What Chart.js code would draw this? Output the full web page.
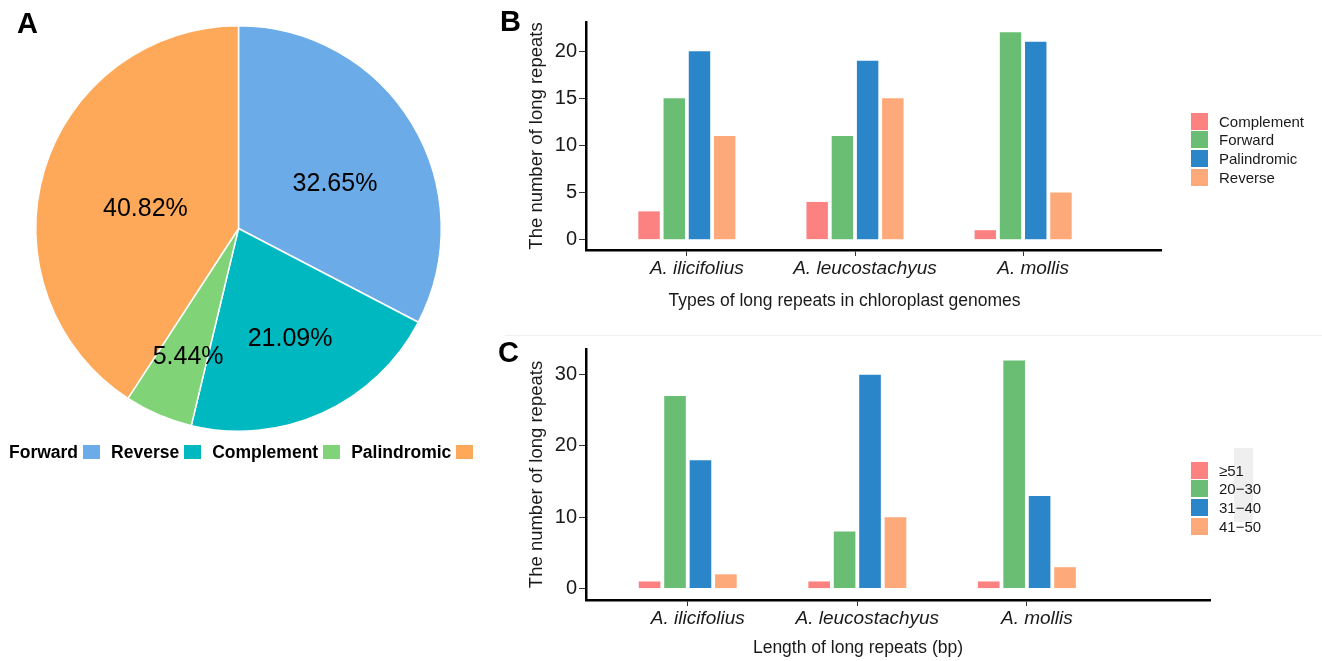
<!DOCTYPE html>
<html>
<head>
<meta charset="utf-8">
<script src="https://cdn.jsdelivr.net/npm/chart.js@4.4.1/dist/chart.umd.min.js"></script>
<style>
html,body{margin:0;padding:0;background:#fff;width:1322px;height:661px;overflow:hidden;font-family:"Liberation Sans",Arial,sans-serif;}
canvas{position:absolute;}
.panel{position:absolute;font-weight:bold;font-size:29px;line-height:29px;color:#000;}
.leg{position:absolute;font-size:15px;color:#1a1a1a;}
.leg .row{display:flex;align-items:center;height:18.6px;}
.leg .sw{width:17px;height:17px;margin-right:11px;}
.xtitle{position:absolute;width:600px;text-align:center;font-size:17.5px;line-height:20px;color:#1a1a1a;white-space:nowrap;}
#pieLegend{position:absolute;left:9px;top:443px;height:18px;display:flex;align-items:center;font-weight:bold;font-size:17.5px;color:#000;white-space:nowrap;}
#pieLegend .sw{width:17px;height:14px;margin-left:5px;margin-right:11px;}
</style>
</head>
<body>
<div style="position:absolute;left:505px;top:335px;width:817px;height:1px;background:#efefef;"></div>
<div style="position:absolute;left:1234px;top:448px;width:19px;height:74px;background:#efefef;"></div>
<canvas id="pie" width="477" height="457" style="left:0;top:0;"></canvas>
<canvas id="typeChart" width="822" height="330" style="left:500px;top:0;"></canvas>
<canvas id="lenChart" width="822" height="326" style="left:500px;top:335px;"></canvas>
<div class="panel" style="left:17px;top:9px;">A</div>
<div class="panel" style="left:500px;top:7px;">B</div>
<div class="panel" style="left:498px;top:338px;">C</div>
<div class="xtitle" style="left:544.5px;top:290px;">Types of long repeats in chloroplast genomes</div>
<div class="xtitle" style="left:558px;top:637px;">Length of long repeats (bp)</div>
<div id="pieLegend"></div>
<div class="leg" id="typeLegend" style="left:1191px;top:112px;"></div>
<div class="leg" id="lenLegend" style="left:1191px;top:461px;"></div>
<script>
// ---- Panel A data ----
const pieCategories = ['Forward', 'Reverse', 'Complement', 'Palindromic'];
const piePercent = [32.65, 21.09, 5.44, 40.82];
const pieColors = ['#6aabe8', '#00b9c0', '#80d477', '#fea85a'];

// ---- Panels B & C shared ----
const species = ['A. ilicifolius', 'A. leucostachyus', 'A. mollis'];
const barColors = ['#fc8181', '#6abe74', '#2a86c8', '#fea97a'];

// ---- Panel B data ----
const typeSeries = ['Complement', 'Forward', 'Palindromic', 'Reverse'];
const typeComplement = [3, 4, 1];
const typeForward = [15, 11, 22];
const typePalindromic = [20, 19, 21];
const typeReverse = [11, 15, 5];
const typeTicks = [0, 5, 10, 15, 20];

// ---- Panel C data ----
const lengthSeries = ['≥51', '20−30', '31−40', '41−50'];
const len51plus = [1, 1, 1];
const len20to30 = [27, 8, 32];
const len31to40 = [18, 30, 13];
const len41to50 = [2, 10, 3];
const lengthTicks = [0, 10, 20, 30];

const FAMILY = '"Liberation Sans", Arial, sans-serif';
const TEXT = '#1a1a1a';

// Pie percentage labels plugin
const pieLabelPlugin = {
  id: 'pieLabels',
  afterDatasetsDraw(chart, args, opts) {
    const ctx = chart.ctx;
    const meta = chart.getDatasetMeta(0);
    ctx.save();
    ctx.font = '25px ' + FAMILY;
    ctx.fillStyle = '#000';
    ctx.textAlign = 'center';
    ctx.textBaseline = 'middle';
    meta.data.forEach((arc, i) => {
      const p = arc.getProps(['x', 'y', 'startAngle', 'endAngle', 'outerRadius'], true);
      const mid = (p.startAngle + p.endAngle) / 2 + (opts.angleShift[i] || 0) * Math.PI / 180;
      const r = p.outerRadius * opts.radius[i];
      const v = chart.data.datasets[0].data[i];
      ctx.fillText(v.toFixed(2) + '%', p.x + r * Math.cos(mid), p.y + r * Math.sin(mid) + 1.5);
    });
    ctx.restore();
  }
};

new Chart(document.getElementById('pie'), {
  type: 'pie',
  data: {
    labels: pieCategories,
    datasets: [{ data: piePercent, backgroundColor: pieColors, borderColor: '#ffffff', borderWidth: 1.5 }]
  },
  options: {
    responsive: false, animation: false, devicePixelRatio: 1,
    layout: { padding: { left: 35, right: 35, top: 25, bottom: 25 } },
    plugins: {
      legend: { display: false }, tooltip: { enabled: false },
      pieLabels: { radius: [0.527, 0.593, 0.676, 0.471], angleShift: [5.8, -0.9, -1.7, -3.6] }
    }
  },
  plugins: [pieLabelPlugin]
});

function makeBar(id, names, values, yTicks, yMin, yMax, xMin, xMax, xHeight, padding) {
  const datasets = names.map((name, k) => ({
    label: name,
    data: values[k].map((v, i) => ({ x: i + 1, y: v })),
    backgroundColor: barColors[k],
    borderWidth: 0,
    categoryPercentage: 0.6,
    barPercentage: 0.85
  }));
  return new Chart(document.getElementById(id), {
    type: 'bar',
    data: { datasets },
    options: {
      responsive: false, animation: false, devicePixelRatio: 1,
      layout: { padding },
      plugins: { legend: { display: false }, tooltip: { enabled: false } },
      scales: {
        x: {
          type: 'linear', min: xMin, max: xMax, offset: false,
          afterBuildTicks: s => { s.ticks = species.map((_, i) => ({ value: i + 1 })); },
          afterFit: s => { s.height = xHeight; },
          grid: { offset: false, drawOnChartArea: false, drawTicks: true, tickLength: 6, color: '#333', lineWidth: 1 },
          border: { display: true, color: '#000', width: 2.5 },
          ticks: { callback: v => species[v - 1], font: { family: FAMILY, size: 19, style: 'italic' }, color: TEXT, padding: 1, labelOffset: 10, maxRotation: 0, autoSkip: false },
          title: { display: false }
        },
        y: {
          min: yMin, max: yMax,
          afterBuildTicks: s => { s.ticks = yTicks.map(v => ({ value: v })); },
          afterFit: s => { s.width = 66; },
          grid: { drawOnChartArea: false, drawTicks: true, tickLength: 7, color: '#333', lineWidth: 1 },
          border: { display: true, color: '#000', width: 2.5 },
          ticks: { font: { family: FAMILY, size: 20 }, color: TEXT, padding: 2 },
          title: { display: true, text: 'The number of long repeats', font: { family: FAMILY, size: 18.5 }, color: TEXT, padding: { top: 6, bottom: 0 } }
        }
      }
    }
  });
}

makeBar('typeChart', typeSeries, [typeComplement, typeForward, typePalindromic, typeReverse],
  typeTicks, -1.1, 23.1, 0.4, 3.82, 60,
  { left: 20, right: 161, top: 22, bottom: 20 });

makeBar('lenChart', lengthSeries, [len51plus, len20to30, len31to40, len41to50],
  lengthTicks, -1.6, 33.6, 0.4, 4.08, 57.5,
  { left: 20, right: 112, top: 10, bottom: 3.5 });

// HTML legends
function buildLegend(el, names, colors) {
  names.forEach((n, i) => {
    const row = document.createElement('div');
    row.className = 'row';
    const sw = document.createElement('div');
    sw.className = 'sw';
    sw.style.background = colors[i];
    const t = document.createElement('span');
    t.textContent = n;
    row.appendChild(sw); row.appendChild(t);
    el.appendChild(row);
  });
}
buildLegend(document.getElementById('typeLegend'), typeSeries, barColors);
buildLegend(document.getElementById('lenLegend'), lengthSeries, barColors);

const pl = document.getElementById('pieLegend');
pieCategories.forEach((n, i) => {
  const t = document.createElement('span');
  t.textContent = n;
  const sw = document.createElement('div');
  sw.className = 'sw';
  sw.style.background = pieColors[i];
  pl.appendChild(t); pl.appendChild(sw);
});
</script>
</body>
</html>
